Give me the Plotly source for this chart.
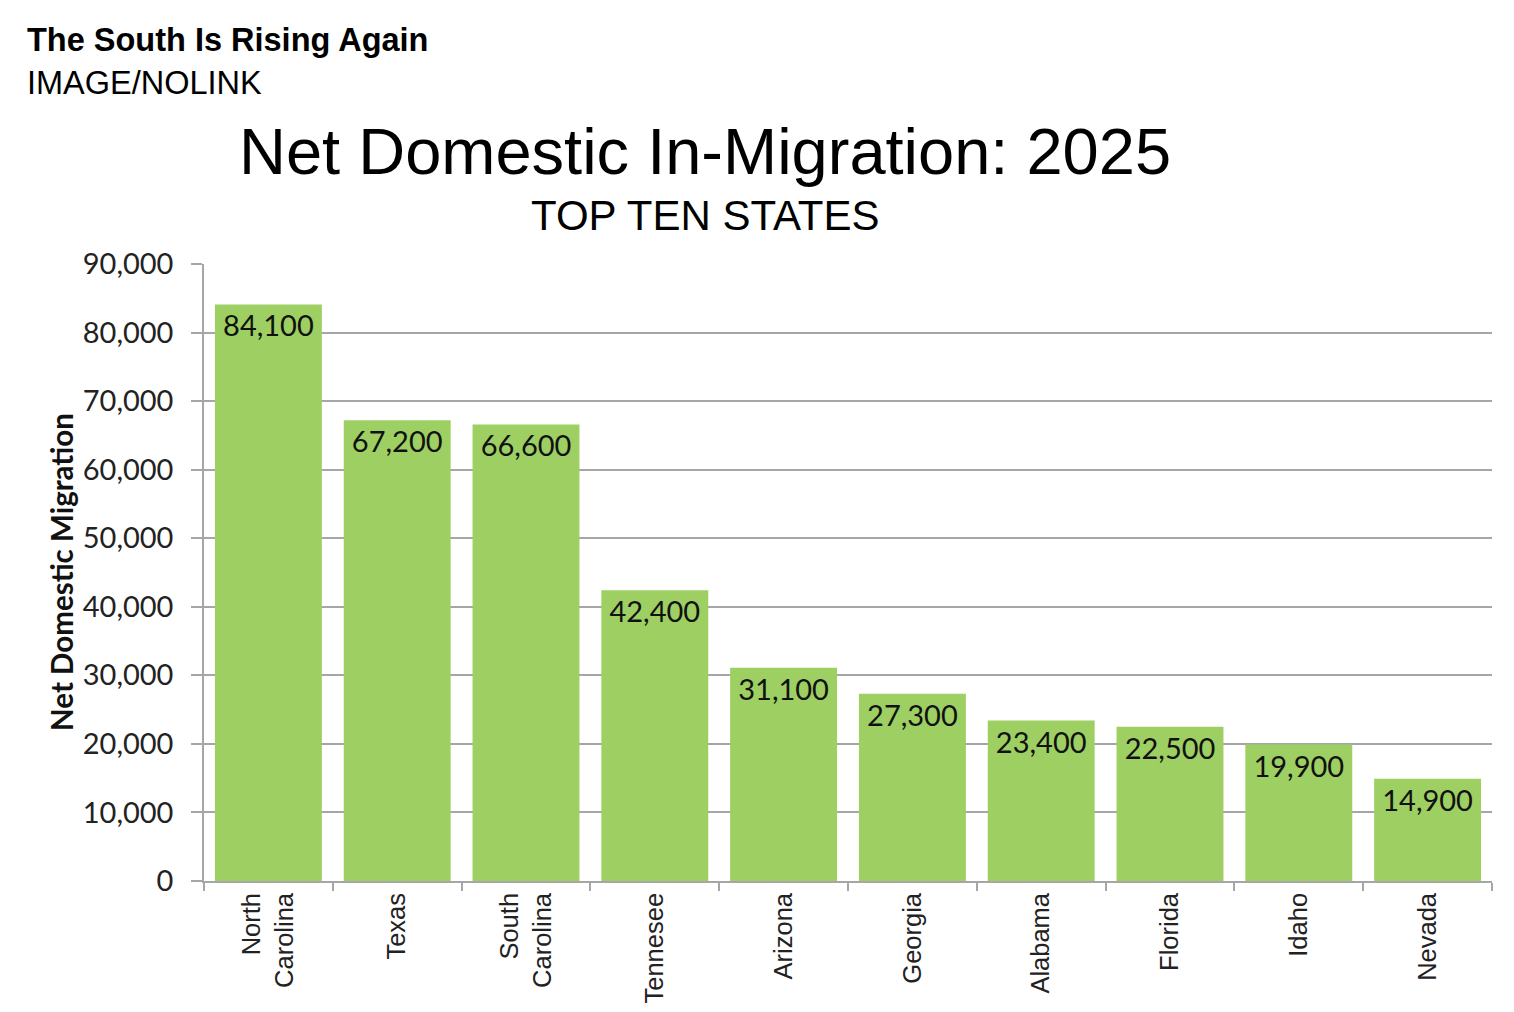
import plotly.graph_objects as go

states = ['North<br>Carolina', 'Texas', 'South<br>Carolina', 'Tennesee', 'Arizona',
          'Georgia', 'Alabama', 'Florida', 'Idaho', 'Nevada']
migration = [84100, 67200, 66600, 42400, 31100, 27300, 23400, 22500, 19900, 14900]
y_ticks = [0, 10000, 20000, 30000, 40000, 50000, 60000, 70000, 80000, 90000]

# page is drawn with an 8px body margin, so work in page pixels and shift
OFF = 8
W, H = 1514 - 2 * OFF, 1012 - 2 * OFF
L, R, T, B = 204, 1492, 264, 881   # plot area in page pixels


def px(x):
    return (x - L) / (R - L)


def py(y):
    return (B - y) / (B - T)


fig = go.Figure()
fig.add_trace(go.Bar(x=states, y=migration,
                     marker=dict(color='#9ECF62', line=dict(width=0)),
                     texttemplate='%{y:,}', textposition='inside',
                     insidetextanchor='end',
                     textfont=dict(family='Lato', size=29, color='#111111'),
                     textangle=0))

fig.update_layout(width=W, height=H,
                  margin=dict(l=L - OFF, r=W - (R - OFF), t=T - OFF, b=H - (B - OFF)),
                  plot_bgcolor='white', paper_bgcolor='white',
                  bargap=0.17, showlegend=False,
                  font=dict(family='Liberation Sans', color='#222222'))

fig.update_yaxes(range=[0, 90000], tickvals=y_ticks, tickformat=',', automargin=False,
                 showgrid=True, gridcolor='#a6a6a6', gridwidth=1.5,
                 showline=True, linecolor='#a6a6a6', linewidth=1.5,
                 ticks='outside', ticklen=11, tickcolor='#a6a6a6', tickwidth=1.5,
                 ticklabelstandoff=12, zeroline=False,
                 tickfont=dict(family='Lato', size=29, color='#222222'))
fig.update_xaxes(showline=True, linecolor='#a6a6a6', linewidth=1.5, automargin=False,
                 ticks='outside', ticklen=8, tickcolor='#a6a6a6', tickwidth=1.5,
                 tickson='boundaries', tickangle=-90,
                 tickfont=dict(family='Liberation Sans', size=25.5, color='#222222'))

fig.add_annotation(text='<b>Net Domestic Migration</b>', xref='paper', yref='paper',
                   x=px(61), y=py(572), xanchor='center', yanchor='middle',
                   textangle=-90, showarrow=False,
                   font=dict(family='Lato', size=29.5, color='#111111'))
fig.add_annotation(text='<b>The South Is Rising Again</b>', xref='paper', yref='paper',
                   x=px(25), y=py(40), xanchor='left', yanchor='middle',
                   showarrow=False, font=dict(family='Liberation Sans', size=32.5, color='black'))
fig.add_annotation(text='IMAGE/NOLINK', xref='paper', yref='paper',
                   x=px(25), y=py(83), xanchor='left', yanchor='middle',
                   showarrow=False, font=dict(family='Liberation Sans', size=32.5, color='black'))
fig.add_annotation(text='Net Domestic In-Migration: 2025', xref='paper', yref='paper',
                   x=px(705), y=py(152), xanchor='center', yanchor='middle',
                   showarrow=False, font=dict(family='Liberation Sans', size=65, color='black'))
fig.add_annotation(text='TOP TEN STATES', xref='paper', yref='paper',
                   x=px(705), y=py(215), xanchor='center', yanchor='middle',
                   showarrow=False, font=dict(family='Liberation Sans', size=42, color='black'))

fig.write_html('out.html')
